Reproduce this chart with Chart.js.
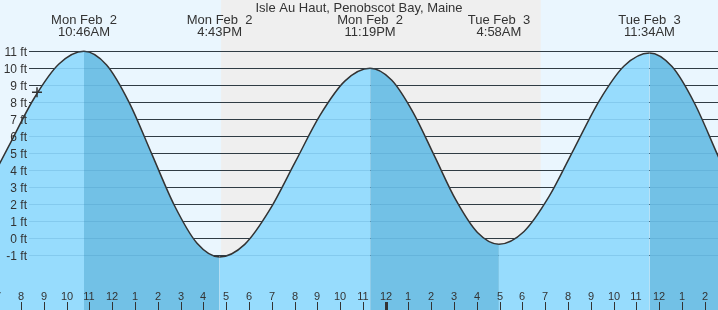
<!DOCTYPE html>
<html lang="en">
<head>
<meta charset="UTF-8">
<title>Isle Au Haut, Penobscot Bay, Maine</title>
<script src="https://cdn.jsdelivr.net/npm/chart.js"></script>
<style>
  html, body { margin: 0; padding: 0; background: #eaf6fe; }
  .wrap { width: 718px; height: 310px; position: relative; }
</style>
</head>
<body>
<div class="wrap"><canvas id="tideChart"></canvas></div>
<script>
// hours counted from Mon Feb 2, 00:00 ; heights in ft
const hours   = [6.367, 7.467, 8.567, 9.667, 10.767,
                 11.758, 12.75, 13.742, 14.733, 15.725, 16.717,
                 17.817, 18.917, 20.017, 21.117, 22.217, 23.317,
                 24.258, 25.2, 26.142, 27.083, 28.025, 28.967,
                 30.067, 31.167, 32.267, 33.367, 34.467, 35.567,
                 36.558, 37.55, 38.542, 39.533];
const heights = [2.62, 5.42, 8.21, 10.25, 11.0,
                 10.19, 7.98, 4.95, 1.93, -0.29, -1.1,
                 -0.36, 1.68, 4.45, 7.23, 9.26, 10.0,
                 9.31, 7.41, 4.83, 2.24, 0.34, -0.35,
                 0.40, 2.46, 5.28, 8.09, 10.15, 10.9,
                 10.10, 7.93, 4.95, 1.98];

// highs and lows labelled across the top
const extremeHours = [10.767, 16.717, 23.317, 28.967, 35.567];
const extremeDays  = ['Mon Feb  2', 'Mon Feb  2', 'Mon Feb  2', 'Tue Feb  3', 'Tue Feb  3'];
const extremeTimes = ['10:46AM', '4:43PM', '11:19PM', '4:58AM', '11:34AM'];

// night band (sunset -> sunrise) and the "now" marker
const sunset = 16.78, sunrise = 30.80;
const nowHour = 8.706, nowHeight = 8.59;

// axis ticks
const yTicks = [-1, 0, 1, 2, 3, 4, 5, 6, 7, 8, 9, 10, 11];
const tickHours  = [7, 8, 9, 10, 11, 12, 13, 14, 15, 16, 17, 18, 19, 20, 21, 22, 23, 24,
                    25, 26, 27, 28, 29, 30, 31, 32, 33, 34, 35, 36, 37, 38];
const tickLabels = ['7', '8', '9', '10', '11', '12', '1', '2', '3', '4', '5', '6', '7', '8', '9', '10', '11', '12',
                    '1', '2', '3', '4', '5', '6', '7', '8', '9', '10', '11', '12', '1', '2'];
const midnight = 24;

const title = 'Isle Au Haut, Penobscot Bay, Maine';

const dayColor = '#eaf6fe';
const nightColor = '#efefef';
const floodColor = '#97dcfd';
const ebbColor = '#72c1e6';
const inkColor = '#333333';
const font = "'Liberation Sans', Arial, sans-serif";

const tidePlugin = {
    id: 'tidePlugin',
    beforeDraw(chart) {
        const { ctx, width, height, scales: { x } } = chart;
        ctx.save();
        ctx.fillStyle = dayColor;
        ctx.fillRect(0, 0, width, height);
        const x0 = x.getPixelForValue(sunset);
        const x1 = x.getPixelForValue(sunrise);
        ctx.fillStyle = nightColor;
        ctx.fillRect(x0, 0, x1 - x0, height);
        ctx.restore();
    },
    beforeDatasetsDraw(chart) {
        const { ctx, width, scales: { y } } = chart;
        ctx.save();
        ctx.fillStyle = inkColor;
        yTicks.forEach(v => {
            ctx.fillRect(29, Math.floor(y.getPixelForValue(v)), width - 29, 1);
        });
        ctx.restore();
    },
    afterDatasetsDraw(chart) {
        const { ctx, width, scales: { x, y } } = chart;
        ctx.save();

        // faint grid lines showing through the water
        ctx.fillStyle = 'rgba(40, 110, 160, 0.16)';
        yTicks.forEach(v => {
            ctx.fillRect(29, Math.floor(y.getPixelForValue(v)), width - 29, 1);
        });

        ctx.fillStyle = inkColor;
        ctx.textBaseline = 'alphabetic';

        // y labels
        ctx.font = '12px ' + font;
        ctx.textAlign = 'right';
        yTicks.forEach(v => {
            ctx.fillText(v + ' ft', 27, y.getPixelForValue(v) + 4.5);
        });

        // hour ticks
        ctx.font = '11px ' + font;
        ctx.textAlign = 'center';
        tickHours.forEach((h, i) => {
            const px = Math.round(x.getPixelForValue(h));
            ctx.fillText(tickLabels[i], px, 299.5);
            if (h === midnight) {
                ctx.fillRect(px - 1, 302, 3, 8);
            } else {
                ctx.fillRect(px, 302, 1, 8);
            }
        });

        // title and high/low labels
        ctx.font = '13px ' + font;
        ctx.fillText(title, width / 2, 12);
        extremeHours.forEach((h, i) => {
            const px = x.getPixelForValue(h);
            ctx.fillText(extremeDays[i], px, 24);
            ctx.fillText(extremeTimes[i], px, 36);
        });
        ctx.restore();
    }
};

new Chart(document.getElementById('tideChart'), {
    type: 'line',
    data: {
        datasets: [{
            data: [{ x: nowHour, y: nowHeight }],
            showLine: false,
            pointStyle: 'cross',
            pointRadius: 5,
            borderColor: inkColor,
            borderWidth: 1.5,
            fill: false
        }, {
            data: hours.map((h, i) => ({ x: h, y: heights[i] })),
            borderColor: inkColor,
            borderWidth: 1.5,
            backgroundColor: floodColor,
            fill: 'start',
            pointRadius: 0,
            cubicInterpolationMode: 'monotone',
            segment: {
                backgroundColor: c => c.p1.parsed.y < c.p0.parsed.y ? ebbColor : floodColor
            }
        }]
    },
    options: {
        responsive: true,
        maintainAspectRatio: false,
        animation: false,
        layout: { padding: 0, autoPadding: false },
        plugins: { legend: { display: false }, tooltip: { enabled: false } },
        scales: {
            x: { type: 'linear', min: 7.083, max: 38.575, display: false },
            y: { min: -4.22, max: 14.02, display: false }
        }
    },
    plugins: [tidePlugin]
});
</script>
</body>
</html>
